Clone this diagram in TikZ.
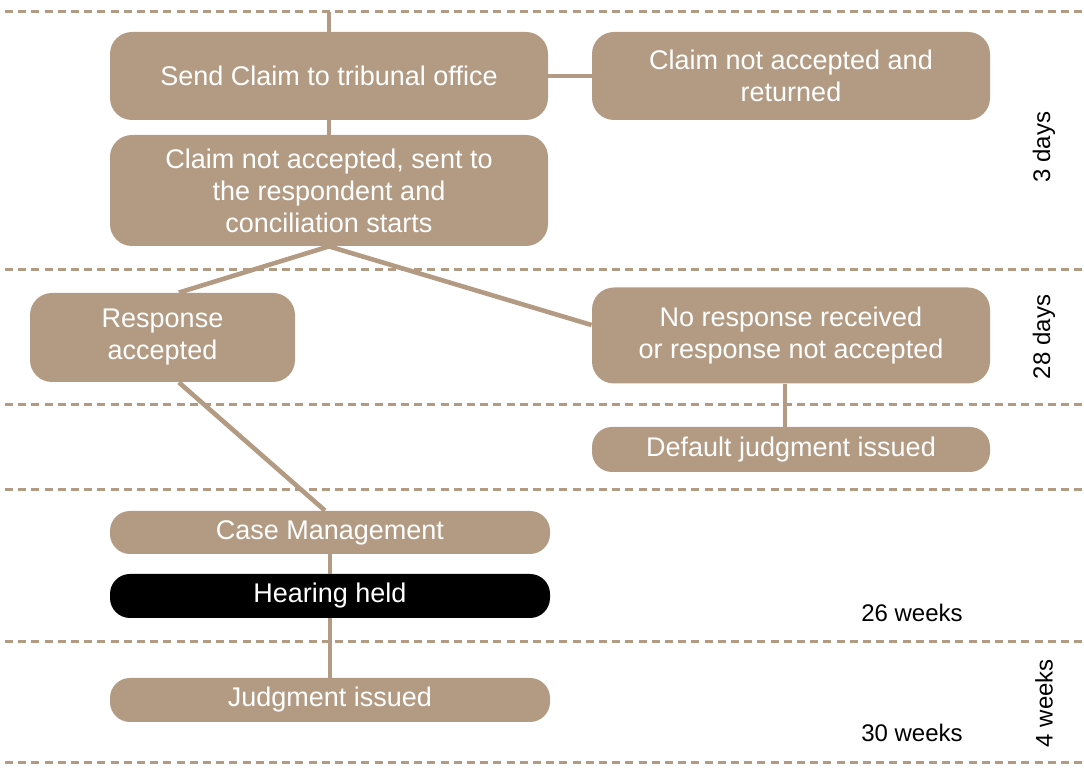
\documentclass[tikz,border=0pt]{standalone}
\usepackage{fontspec}
\setmainfont{Liberation Sans}
\usepackage{tikz}
\usetikzlibrary{positioning}
\usepackage{xcolor}
\definecolor{claimtan}{HTML}{B39B83}
\definecolor{ink}{HTML}{000000}
\tikzset{
  every node/.style={font=\fontsize{13.5}{16}\selectfont,text=ink},
  box/.style={fill=claimtan,rounded corners=11pt,text=white,align=center,inner sep=2pt,minimum width=219pt,minimum height=44pt},
  slimbox/.style={box,rounded corners=10pt,minimum height=21.5pt,minimum width=220pt},
  blackbox/.style={slimbox,fill=black},
  link/.style={draw=claimtan,line width=2.3pt},
  divider/.style={draw=claimtan,line width=1.5pt,dash pattern=on 4pt off 2.6pt},
  timelabel/.style={font=\fontsize{12}{14}\selectfont,text=ink,inner sep=0pt},
}
\begin{document}
\begin{tikzpicture}[x=0.5pt,y=-0.5pt]
  \useasboundingbox (0,0) rectangle (1084,774);
  % stage dividers
  \foreach \yy in {12,270,405,490,642,763}
    \draw[divider] (5,\yy) -- (1084,\yy);

  \node[box] (send) at (329,76) {Send Claim to tribunal office};
  \node[box,minimum width=199pt] (returned) at (791,76) {Claim not accepted and\\returned};
  \node[box,minimum height=55.5pt] (sent) at (329,190.5) {Claim not accepted, sent to\\the respondent and\\conciliation starts};
  \node[box,minimum width=132.5pt,minimum height=44.5pt] (resp) at (162.5,337.5) {Response\\accepted};
  \node[box,minimum width=199pt,minimum height=48pt] (nores) at (791,335.5) {No response received\\or response not accepted};
  \node[slimbox,minimum width=199pt,minimum height=22.5pt] (default) at (791,449.5) {Default judgment issued};
  \node[slimbox] (casemgmt) at (330,532.5) {Case Management};
  \node[blackbox,minimum height=22pt] (hearing) at (330,596) {Hearing held};
  \node[slimbox,minimum height=22pt] (judgment) at (330,700) {Judgment issued};

  \coordinate (start) at (329,12);
  \draw[link] (start) -- (send.north);
  \draw[link] (send.east) -- (returned.west);
  \draw[link] (send.south) -- (sent.north);
  \draw[link] (sent.south) -- (resp.70);
  \draw[link] (sent.south) -- (nores.177);
  \draw[link] (resp.-70) -- ([xshift=-2.5pt]casemgmt.north);
  \draw[link] ([xshift=-3pt]nores.south) -- ([xshift=-3pt]default.north);
  \draw[link] (casemgmt.south) -- (hearing.north);
  \draw[link] (hearing.south) -- (judgment.north);

  % durations
  \node[timelabel,rotate=90] (days3) at (1044,147) {3 days};
  \node[timelabel,rotate=90] (days28) at (1044,337) {28 days};
  \node[timelabel,rotate=90] (weeks4) at (1044,703) {4 weeks};
  \node[timelabel] (weeks26) at (912,613) {26 weeks};
  \node[timelabel] (weeks30) at (912,733) {30 weeks};
\end{tikzpicture}
\end{document}
